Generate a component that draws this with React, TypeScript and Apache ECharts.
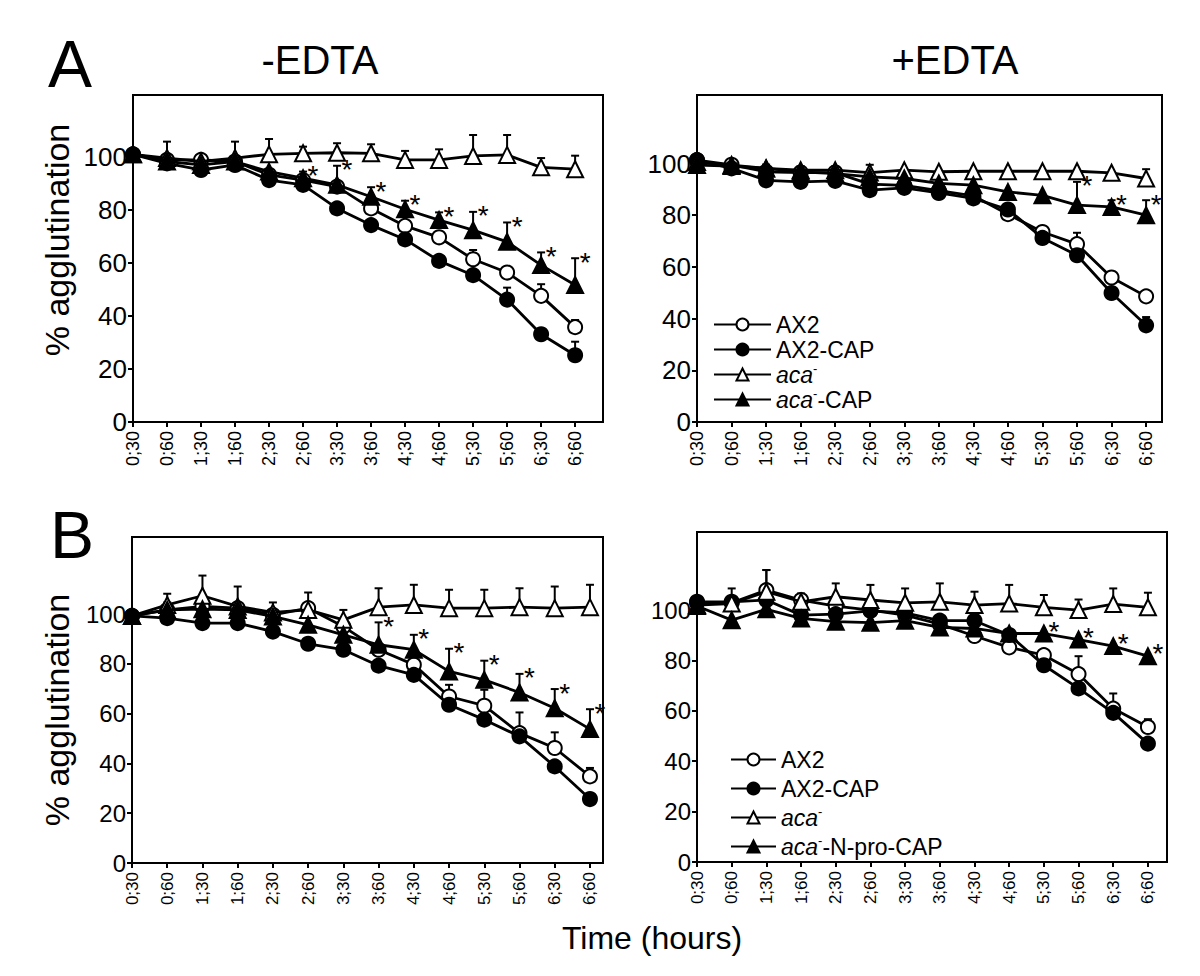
import React, { useEffect, useRef } from 'react';
import * as echarts from 'echarts';

const FONT = 'Liberation Sans, Arial, Helvetica, sans-serif';
const NARROW = 'Liberation Sans Narrow, Liberation Sans, Arial, sans-serif';

const timeLabels = ['0;30', '0;60', '1;30', '1;60', '2;30', '2;60', '3;30', '3;60', '4;30', '4;60', '5;30', '5;60', '6;30', '6;60'];
const yTicks = [0, 20, 40, 60, 80, 100];

// Panel A, -EDTA
const aMinusAX2 = [101, 98.9, 98.9, 98.3, 93.3, 91.3, 88.8, 80.6, 74, 69.7, 61.4, 56.4, 47.6, 35.8];
const aMinusAX2Err = [0, 0, 0, 0, 0, 0, 0, 0, 0, 0, 3.5, 0, 4.4, 2.7];
const aMinusAX2CAP = [101, 97.6, 95.1, 97, 91.3, 89.5, 80.6, 74.3, 68.9, 60.8, 55.4, 46.2, 33.1, 25.2];
const aMinusAX2CAPErr = [0, 0, 0, 0, 0, 0, 0, 0, 0, 0, 0, 4.5, 0, 5.1];
const aMinusAca = [101, 99.6, 98.3, 99.6, 101, 101.4, 101.6, 101.4, 98.9, 98.9, 100.4, 100.8, 96.1, 95.4];
const aMinusAcaErr = [0, 6.2, 0, 6.2, 5.8, 2.5, 3.6, 3.4, 3.4, 4, 7.9, 7.5, 3.5, 5.1];
const aMinusAcaCAP = [101, 98.3, 97, 98.3, 94.5, 92, 89.5, 85, 80.3, 76.2, 72.4, 68, 59.2, 51.7];
const aMinusAcaCAPErr = [0, 0, 0, 0, 0, 2.5, 7.2, 3.6, 3.2, 2.9, 6.9, 7.3, 4.8, 10.1];
const aMinusStars = [5, 6, 7, 8, 9, 10, 11, 12, 13];

// Panel A, +EDTA
const aPlusAX2 = [101.3, 99.5, 96.8, 96.5, 96.5, 92, 91.5, 89.5, 87.5, 80.4, 73.5, 68.8, 55.9, 48.6];
const aPlusAX2Err = [0, 0, 0, 0, 0, 0, 0, 0, 0, 0, 0, 4.4, 2.2, 2];
const aPlusAX2CAP = [101.3, 98.1, 93.5, 92.9, 93.3, 89.7, 90.6, 88.6, 86.5, 82.2, 71.2, 64.5, 49.9, 37.4];
const aPlusAX2CAPErr = [0, 0, 0, 0, 0, 0, 0, 0, 0, 0, 0, 0, 0, 3.2];
const aPlusAca = [100.6, 99.4, 98.1, 97.4, 97.4, 96.5, 97.4, 96.8, 97, 97, 97, 97, 96.4, 94.2];
const aPlusAcaErr = [0, 1.5, 1.5, 1.5, 1.5, 3, 0, 0, 0, 0, 0, 0, 0, 3.6];
const aPlusAcaCAP = [99.4, 99, 98.1, 96.8, 96.1, 94.8, 94.2, 92.3, 91.6, 89, 87.7, 83.9, 83.2, 80];
const aPlusAcaCAPErr = [0, 0, 0, 0, 0, 0, 0, 0, 0, 0, 0, 9, 2.6, 5.8];
const aPlusStars = [11, 12, 13];

// Panel B, -EDTA
const bMinusAX2 = [99.3, 101.7, 103.1, 102.4, 99.7, 102.4, 95, 85.7, 79.7, 66.9, 63.2, 52.2, 46.2, 34.8];
const bMinusAX2Err = [0, 3, 0, 0, 0, 0, 0, 0, 0, 4.7, 6.4, 8.3, 6.3, 3.4];
const bMinusAX2CAP = [99.3, 98.4, 96.4, 96.4, 93, 88.1, 85.7, 79.3, 75.6, 63.6, 57.6, 50.9, 38.8, 25.7];
const bMinusAX2CAPErr = [0, 0, 0, 0, 0, 0, 0, 0, 0, 0, 0, 0, 0, 0];
const bMinusAca = [99.3, 103.7, 107.4, 103.1, 100.7, 101.7, 97.7, 102.8, 103.7, 102.4, 102.4, 102.8, 102.4, 102.8];
const bMinusAcaErr = [0, 4.5, 8.1, 8, 4, 7, 4, 7.6, 8.1, 7.4, 7.4, 7.6, 8.7, 9];
const bMinusAcaNpro = [99.3, 101.7, 102, 101.7, 99.1, 95.7, 91.7, 87.7, 85.7, 77, 73.6, 68.5, 62.2, 53.8];
const bMinusAcaNproErr = [0, 0, 0, 0, 0, 0, 0, 9, 6, 9.1, 7.7, 7.5, 7.7, 8];
const bMinusStars = [7, 8, 9, 10, 11, 12, 13];

// Panel B, +EDTA
const bPlusAX2 = [102.9, 102.9, 107.9, 104, 101.6, 100, 98, 94.4, 89.7, 85.2, 82.1, 74.6, 60.9, 53.6];
const bPlusAX2Err = [0, 0, 8, 0, 0, 0, 0, 0, 0, 0, 0, 7.1, 6, 3.1];
const bPlusAX2CAP = [103.3, 103.3, 104, 98, 98.4, 99.7, 98.9, 95.8, 95.8, 90.1, 78.1, 68.9, 59.2, 47];
const bPlusAX2CAPErr = [0, 0, 0, 0, 0, 0, 0, 0, 0, 0, 0, 0, 0, 0];
const bPlusAca = [102, 102.6, 107.3, 103.3, 105.3, 104, 102.9, 103.3, 102, 102.6, 101.1, 100, 102.4, 101.1];
const bPlusAcaErr = [0, 6, 8.6, 3.3, 5.3, 6, 5.7, 7.3, 5.3, 7.4, 4.9, 4.2, 6.2, 5.8];
const bPlusAcaNpro = [101.6, 96, 100.3, 96.7, 95.4, 95, 95.8, 93.1, 92.7, 90.7, 90.7, 88.3, 85.7, 81.7];
const bPlusAcaNproErr = [0, 0, 0, 0, 0, 0, 0, 0, 0, 0, 0, 0, 0, 0];
const bPlusStars = [10, 11, 12, 13];

type LineDef = { name: string; sym: string; fill: boolean; v: number[]; e: number[] };

const mk = (name: string, sym: string, fill: boolean, v: number[], e: number[]): LineDef => ({ name, sym, fill, v, e });

const panels = [
  {
    grid: { left: 133, top: 95, width: 470, height: 327 }, xMax: 13.82, yMax: 123.4, yFont: 26, xFont: 18,
    lines: [mk('AX2', 'circle', false, aMinusAX2, aMinusAX2Err), mk('AX2-CAP', 'circle', true, aMinusAX2CAP, aMinusAX2CAPErr),
      mk('aca-', 'triangle', false, aMinusAca, aMinusAcaErr), mk('aca--CAP', 'triangle', true, aMinusAcaCAP, aMinusAcaCAPErr)],
    stars: aMinusStars,
  },
  {
    grid: { left: 697, top: 95, width: 465, height: 327 }, xMax: 13.46, yMax: 126.5, yFont: 26, xFont: 18,
    lines: [mk('AX2', 'circle', false, aPlusAX2, aPlusAX2Err), mk('AX2-CAP', 'circle', true, aPlusAX2CAP, aPlusAX2CAPErr),
      mk('aca-', 'triangle', false, aPlusAca, aPlusAcaErr), mk('aca--CAP', 'triangle', true, aPlusAcaCAP, aPlusAcaCAPErr)],
    stars: aPlusStars,
  },
  {
    grid: { left: 132, top: 537, width: 471, height: 326 }, xMax: 13.37, yMax: 131, yFont: 24, xFont: 17,
    lines: [mk('AX2', 'circle', false, bMinusAX2, bMinusAX2Err), mk('AX2-CAP', 'circle', true, bMinusAX2CAP, bMinusAX2CAPErr),
      mk('aca-', 'triangle', false, bMinusAca, bMinusAcaErr), mk('aca--N-pro-CAP', 'triangle', true, bMinusAcaNpro, bMinusAcaNproErr)],
    stars: bMinusStars,
  },
  {
    grid: { left: 697, top: 532, width: 470, height: 330 }, xMax: 13.55, yMax: 131, yFont: 24, xFont: 17,
    lines: [mk('AX2', 'circle', false, bPlusAX2, bPlusAX2Err), mk('AX2-CAP', 'circle', true, bPlusAX2CAP, bPlusAX2CAPErr),
      mk('aca-', 'triangle', false, bPlusAca, bPlusAcaErr), mk('aca--N-pro-CAP', 'triangle', true, bPlusAcaNpro, bPlusAcaNproErr)],
    stars: bPlusStars,
  },
];

const legendFormatter = (name: string) => {
  if (name === 'aca-') return '{i|aca}{s|-}';
  if (name === 'aca--CAP') return '{i|aca}{s|-}{n|-CAP}';
  if (name === 'aca--N-pro-CAP') return '{i|aca}{s|-}{n|-N-pro-CAP}';
  return '{n|' + name + '}';
};

const legendText = (size: number) => ({
  fontFamily: FONT, fontSize: size, color: '#000', lineHeight: size + 2,
  rich: {
    n: { fontFamily: FONT, fontSize: size, color: '#000', lineHeight: size + 2 },
    i: { fontFamily: FONT, fontSize: size, color: '#000', fontStyle: 'italic', lineHeight: size + 2 },
    s: { fontFamily: FONT, fontSize: 13, color: '#000', verticalAlign: 'top', lineHeight: 12 },
  },
});

function buildOption() {
  const grids: any[] = [];
  const xAxes: any[] = [];
  const yAxes: any[] = [];
  const series: any[] = [];
  panels.forEach((p, gi) => {
    grids.push({ ...p.grid, show: true, borderColor: '#000', borderWidth: 2, backgroundColor: '#fff' });
    xAxes.push({
      type: 'value', gridIndex: gi, min: 0, max: p.xMax, interval: 1,
      axisLine: { show: true, lineStyle: { color: '#000', width: 2 } },
      axisTick: { show: true, inside: false, length: 5, lineStyle: { color: '#000', width: 2 }, customValues: timeLabels.map((_, i) => i) },
      axisLabel: {
        show: true, rotate: 90, margin: 9, color: '#000', fontFamily: FONT, fontSize: p.xFont,
        customValues: timeLabels.map((_, i) => i),
        formatter: (v: number) => timeLabels[Math.round(v)] ?? '',
      },
      splitLine: { show: false },
    });
    yAxes.push({
      type: 'value', gridIndex: gi, min: 0, max: p.yMax, interval: 20,
      axisLine: { show: true, lineStyle: { color: '#000', width: 2 } },
      axisTick: { show: true, inside: false, length: 5, lineStyle: { color: '#000', width: 2 }, customValues: yTicks },
      axisLabel: { show: true, margin: 6, color: '#000', fontFamily: FONT, fontSize: p.yFont, customValues: yTicks },
      splitLine: { show: false },
    });
    const errData: number[][] = [];
    p.lines.forEach((ln) => {
      ln.v.forEach((v, i) => {
        if (ln.e[i] > 0) errData.push([i, v, v + ln.e[i]]);
      });
    });
    series.push({
      type: 'custom', xAxisIndex: gi, yAxisIndex: gi, z: 1, silent: true,
      data: errData,
      renderItem: (params: any, api: any) => {
        const x = api.value(0), lo = api.value(1), hi = api.value(2);
        const p0 = api.coord([x, lo]);
        const p1 = api.coord([x, hi]);
        return {
          type: 'group',
          children: [
            { type: 'line', shape: { x1: p0[0], y1: p0[1], x2: p1[0], y2: p1[1] }, style: { stroke: '#000', lineWidth: 2 } },
            { type: 'line', shape: { x1: p1[0] - 4, y1: p1[1], x2: p1[0] + 4, y2: p1[1] }, style: { stroke: '#000', lineWidth: 2 } },
          ],
        };
      },
    });
    p.lines.forEach((ln, li) => {
      series.push({
        type: 'line', name: ln.name, xAxisIndex: gi, yAxisIndex: gi, z: 3 + li,
        data: ln.v.map((v, i) => [i, v]),
        symbol: ln.sym, symbolSize: ln.sym === 'circle' ? 14 : 16, showAllSymbol: true,
        itemStyle: { color: ln.fill ? '#000' : '#fff', borderColor: '#000', borderWidth: 2 },
        lineStyle: { color: '#000', width: 2.8 },
        emphasis: { disabled: true },
      });
    });
    const starLine = p.lines[3];
    series.push({
      type: 'custom', xAxisIndex: gi, yAxisIndex: gi, z: 10, silent: true,
      data: p.stars.map((i) => [i, starLine.v[i] + (starLine.e[i] > 0 ? starLine.e[i] : 2.5)]),
      renderItem: (params: any, api: any) => {
        const pt = api.coord([api.value(0), api.value(1)]);
        return {
          type: 'text', x: pt[0] + 10, y: pt[1] + 4,
          style: { text: '*', fill: '#000', fontFamily: FONT, fontSize: 28, align: 'center', verticalAlign: 'middle' },
        };
      },
    });
  });

  const graphic: any[] = [
    { type: 'text', x: 70, y: 64, style: { text: 'A', fill: '#000', fontFamily: FONT, fontSize: 66, align: 'center', verticalAlign: 'middle' } },
    { type: 'text', x: 72, y: 535, style: { text: 'B', fill: '#000', fontFamily: FONT, fontSize: 66, align: 'center', verticalAlign: 'middle' } },
    { type: 'text', x: 320, y: 60, style: { text: '-EDTA', fill: '#000', fontFamily: NARROW, fontSize: 40, align: 'center', verticalAlign: 'middle' } },
    { type: 'text', x: 955, y: 60, style: { text: '+EDTA', fill: '#000', fontFamily: NARROW, fontSize: 40, align: 'center', verticalAlign: 'middle' } },
    { type: 'text', x: 57, y: 240, rotation: Math.PI / 2, style: { text: '% agglutination', fill: '#000', fontFamily: FONT, fontSize: 34, align: 'center', verticalAlign: 'middle' } },
    { type: 'text', x: 57, y: 710, rotation: Math.PI / 2, style: { text: '% agglutination', fill: '#000', fontFamily: FONT, fontSize: 34, align: 'center', verticalAlign: 'middle' } },
    { type: 'text', x: 652, y: 938, style: { text: 'Time (hours)', fill: '#000', fontFamily: FONT, fontSize: 32, align: 'center', verticalAlign: 'middle' } },
  ];

  return {
    animation: false,
    backgroundColor: '#fff',
    grid: grids,
    xAxis: xAxes,
    yAxis: yAxes,
    legend: [
      {
        data: ['AX2', 'AX2-CAP', 'aca-', 'aca--CAP'], orient: 'vertical', left: 708, top: 307,
        itemGap: 0, itemWidth: 57, itemHeight: 15, selectedMode: false, formatter: legendFormatter, textStyle: legendText(23),
      },
      {
        data: ['AX2', 'AX2-CAP', 'aca-', 'aca--N-pro-CAP'], orient: 'vertical', left: 725, top: 742,
        itemGap: 4, itemWidth: 45, itemHeight: 15, selectedMode: false, formatter: legendFormatter, textStyle: legendText(23),
      },
    ],
    graphic,
    series,
  };
}

export default function App() {
  const ref = useRef<HTMLDivElement>(null);
  useEffect(() => {
    if (!ref.current) return;
    const chart = echarts.init(ref.current, undefined, { renderer: 'svg' });
    chart.setOption(buildOption() as any);
    return () => chart.dispose();
  }, []);
  return <div ref={ref} style={{ position: 'absolute', left: 0, top: 0, width: 1200, height: 976, background: '#fff' }} />;
}
